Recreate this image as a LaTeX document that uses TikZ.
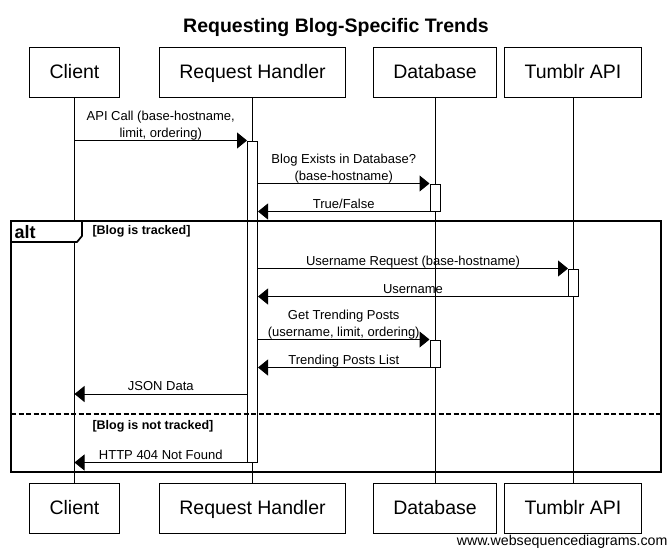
\documentclass[tikz,border=0pt]{standalone}
\usepackage{fontspec}
\setmainfont{Liberation Sans}
\usetikzlibrary{arrows.meta}

\begin{document}
\begin{tikzpicture}[x=1pt,y=-1pt,line width=1pt,
   actor/.style={draw,minimum height=50pt,inner xsep=20pt,text height=14pt,text depth=2pt,font=\fontsize{19.5}{22}\selectfont},
   act/.style={draw,fill=white,minimum width=10pt,inner sep=0pt},
   msg/.style={-{Triangle[length=10pt,width=16pt]}},
   lbl/.style={anchor=south,inner sep=0pt,yshift=3pt,text depth=0pt,align=center,font=\fontsize{13}{16.8}\selectfont},
   guard/.style={anchor=base west,inner sep=0pt,font=\bfseries\fontsize{12.5}{15}\selectfont},
   frame/.style={line width=1.7pt}]
   \useasboundingbox (0,0) rectangle (670,555);
   \node[anchor=base,inner sep=0pt,font=\bfseries\fontsize{19.5}{22}\selectfont] (title) at (336,32) {Requesting Blog-Specific Trends};

   \node[actor] (c)  at (74.5,72) {Client};
   \node[actor] (rh) at (252.5,72) {Request Handler};
   \node[actor] (db) at (435,72) {Database};
   \node[actor] (tu) at (573,72) {Tumblr API};
   \coordinate (foot) at (0,508);
   \node[actor] (c2)  at (c |- foot) {Client};
   \node[actor] (rh2) at (rh |- foot) {Request Handler};
   \node[actor] (db2) at (db |- foot) {Database};
   \node[actor] (tu2) at (tu |- foot) {Tumblr API};
   \foreach \a in {c,rh,db,tu}
      \draw (\a.south) -- (\a2.north);

   \node[act,minimum height=321pt] (h1) at (252.5,301.5) {};
   \node[act,minimum height=27pt] (d1) at (435,197.5) {};
   \node[act,minimum height=27pt] (t1) at (573.5,282.5) {};
   \node[act,minimum height=27pt] (d2) at (435,353.5) {};
   \coordinate (r9) at (0,394);

   \path[msg]
   (c |- h1.north) edge node[lbl] {API Call (base-hostname,\\limit, ordering)} (h1.north west)
   (h1.east |- d1.north) edge node[lbl] {Blog Exists in Database?\\(base-hostname)} (d1.north west)
   (d1.south west) edge node[lbl] {True/False} (h1.east |- d1.south)
   (h1.east |- t1.north) edge node[lbl] {Username Request (base-hostname)} (t1.north west)
   (t1.south west) edge node[lbl] {Username} (h1.east |- t1.south)
   (h1.east |- d2.north) edge node[lbl] {Get Trending Posts\\(username, limit, ordering)} (d2.north west)
   (d2.south west) edge node[lbl] {Trending Posts List} (h1.east |- d2.south)
   (h1.west |- r9) edge node[lbl] {JSON Data} (c |- r9)
   (h1.south west) edge node[lbl] {HTTP 404 Not Found} (c |- h1.south);

   \draw[frame] (11,221) rectangle (661,472);
   \draw[frame,dash pattern=on 5pt off 2.5pt] (11,414) -- (661,414);
   \draw[frame,fill=white] (11,221) -- (82,221) -- (82,236) -- (77,242) -- (11,242) -- cycle;
   \node[anchor=base west,inner sep=0pt,font=\bfseries\fontsize{18}{20}\selectfont] (alt) at (14,238) {alt};
   \node[guard] (g1) at (92,234.5) {[Blog is tracked]};
   \node[guard] (g2) at (92,429.5) {[Blog is not tracked]};
   \node[anchor=base east,inner sep=0pt,font=\fontsize{14.2}{17}\selectfont] (wsd) at (668,545) {www.websequencediagrams.com};
\end{tikzpicture}
\end{document}
